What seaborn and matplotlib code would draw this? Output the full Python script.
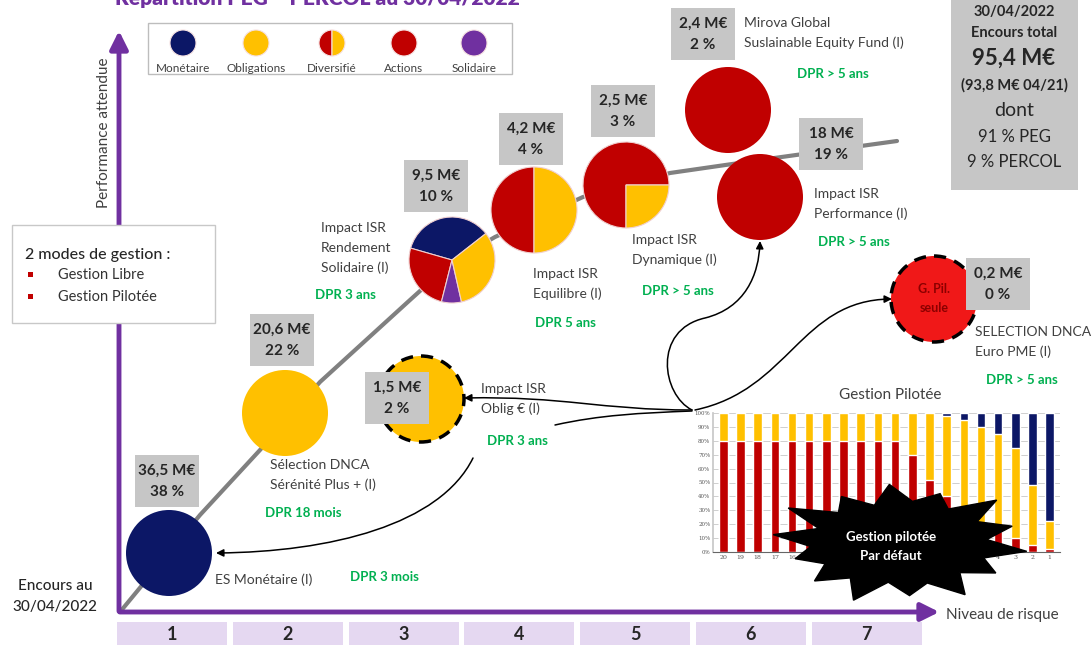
import numpy as np
import pandas as pd
import seaborn as sns
import matplotlib.pyplot as plt
from matplotlib.patches import Rectangle, Polygon, FancyArrowPatch
from matplotlib.path import Path

sns.set_theme(style="white")
plt.rcParams['font.family'] = ['Lato', 'DejaVu Sans']

# Data
fonds = ["ES Monétaire (I)", "Sélection DNCA\nSérénité Plus + (I)", "Impact ISR\nOblig € (I)",
         "Impact ISR\nRendement\nSolidaire (I)", "Impact ISR\nEquilibre (I)", "Impact ISR\nDynamique (I)",
         "Mirova Global\nSuslainable Equity Fund (I)", "Impact ISR\nPerformance (I)",
         "SELECTION DNCA\nEuro PME (I)"]
encours = [36.5, 20.6, 1.5, 9.5, 4.2, 2.5, 2.4, 18, 0.2]   # M€
parts = [38, 22, 2, 10, 4, 3, 2, 19, 0]                      # %
dpr = ["DPR 3 mois", "DPR 18 mois", "DPR 3 ans", "DPR 3 ans", "DPR 5 ans",
       "DPR > 5 ans", "DPR > 5 ans", "DPR > 5 ans", "DPR > 5 ans"]
# composition of each fund (%)
monetaire = [100, 0, 0, 35, 0, 0, 0, 0, 0]
actions = [0, 0, 0, 25.5, 50, 75, 100, 100, 100]
solidaire = [0, 0, 0, 7.5, 0, 0, 0, 0, 0]
obligations = [0, 100, 100, 32, 50, 25, 0, 0, 0]

legende = ["Monétaire", "Obligations", "Diversifié", "Actions", "Solidaire"]
risques = ["1", "2", "3", "4", "5", "6", "7"]

# Gestion pilotée (profils 20 -> 1)
profils = ["20", "19", "18", "17", "16", "15", "14", "13", "12", "11", "10",
           "9", "8", "7", "6", "5", "4", "3", "2", "1"]
pil_actions = [80, 80, 80, 80, 80, 80, 80, 80, 80, 80, 80, 70, 52, 40, 28, 20, 15, 10, 5, 2]
pil_obligations = [20, 20, 20, 20, 20, 20, 20, 20, 20, 20, 20, 30, 48, 58, 67, 70, 70, 65, 43, 20]
pil_monetaire = [0, 0, 0, 0, 0, 0, 0, 0, 0, 0, 0, 0, 0, 2, 5, 10, 15, 25, 52, 78]

# colours
NAVY = "#0c1766"
YELLOW = "#ffc000"
RED = "#c00000"
PURPLE = "#7030a0"
GREEN = "#00b050"
TXT = "#404040"

# layout (pixels)
centres = [(169, 553), (285, 413), (421, 399), (452, 260), (534, 210), (626, 185),
           (728, 110), (760, 197), (934, 299)]
rayon = 43
starts = [90, 90, 90, 38, 90, 0, 90, 90, 90]
boxes = [(167, 481), (282, 340), (397, 398), (436, 186), (531, 139), (623, 111),
         (703, 34), (831, 144), (998, 284)]
labels_xy = [(215, 580), (270, 465), (481, 389), (321, 228), (533, 274), (632, 240),
             (744, 23), (814, 194), (975, 332)]
dpr_xy = [(350, 577), (265, 513), (487, 441), (315, 295), (535, 323), (642, 291),
          (797, 74), (818, 242), (986, 380)]


def fmt(v):
    return f"{v:g}".replace(".", ",")


fig = plt.figure(figsize=(10.92, 6.45), dpi=100)
ax = fig.add_axes([0, 0, 1, 1])
ax.set_xlim(0, 1092)
ax.set_ylim(645, 0)

# grey performance curve
curve_x = [120, 200, 260, 320, 410, 452, 495, 583, 670, 760, 897]
curve_y = [612, 515, 450, 382, 300, 262, 237, 197, 173, 160, 141]
ax.plot(curve_x, curve_y, color="#808080", lw=3, zorder=1, solid_capstyle="round")

# axes arrows
ax.annotate("", xy=(119, 28), xytext=(119, 614), zorder=1,
            arrowprops=dict(arrowstyle="-|>,head_length=0.9,head_width=0.45", color=PURPLE, lw=3.5))
ax.annotate("", xy=(942, 612), xytext=(117, 612), zorder=1,
            arrowprops=dict(arrowstyle="-|>,head_length=0.9,head_width=0.45", color=PURPLE, lw=3.5))
ax.text(104, 133, "Performance attendue", rotation=90, ha="center", va="center", fontsize=11, color=TXT)
ax.text(946, 615, "Niveau de risque", ha="left", va="center", fontsize=11, color=TXT)
ax.text(55, 586, "Encours au", ha="center", va="center", fontsize=11, color="#262626", fontweight="medium")
ax.text(55, 607, "30/04/2022", ha="center", va="center", fontsize=11, color="#262626", fontweight="medium")

# risk scale
for i, r in enumerate(risques):
    x0 = 117 + i * 115.8
    ax.add_patch(Rectangle((x0, 622), 110, 30, facecolor="#e5d8f1", edgecolor="none", zorder=1))
    ax.text(x0 + 55, 635, r, ha="center", va="center", fontsize=13, fontweight="bold", color="#262626")

# title (cut at the top)
ax.text(115, 5, "Répartition PEG – PERCOL au 30/04/2022", ha="left", va="baseline",
        fontsize=15, fontweight="heavy", color=PURPLE)

# funds
for i in range(len(fonds)):
    cx, cy = centres[i]
    vals = [monetaire[i], actions[i], solidaire[i], obligations[i]]
    cols = [NAVY, RED, PURPLE, YELLOW]
    if i == 8:
        cols = [NAVY, "#f01818", PURPLE, YELLOW]
    keep = [k for k in range(4) if vals[k] > 0]
    ax.pie([vals[k] for k in keep], colors=[cols[k] for k in keep], center=(cx, cy), radius=rayon,
           startangle=-starts[i], counterclock=False, frame=True,
           wedgeprops=dict(edgecolor="#f0d0d0", linewidth=0.8 if len(keep) > 1 else 0))
    if i in (2, 8):
        circ = plt.Circle((cx, cy), rayon, facecolor="none", edgecolor="black", lw=2.5,
                          linestyle=(0, (3.5, 2.5)), zorder=3)
        ax.add_patch(circ)

    bx, by = boxes[i]
    ax.add_patch(Rectangle((bx - 32, by - 26), 64, 52, facecolor="#c6c6c6", edgecolor="none", zorder=4))
    ax.text(bx, by - 10, f"{fmt(encours[i])} M€", ha="center", va="center", fontsize=11,
            fontweight="bold", color="#262626", zorder=5)
    ax.text(bx, by + 11, f"{parts[i]} %", ha="center", va="center", fontsize=11,
            fontweight="bold", color="#262626", zorder=5)

    lx, ly = labels_xy[i]
    for j, line in enumerate(fonds[i].split("\n")):
        ax.text(lx, ly + j * 20, line, ha="left", va="center", fontsize=10, color=TXT)

    dx, dy = dpr_xy[i]
    ax.text(dx, dy, dpr[i], ha="left", va="center", fontsize=9.5, fontweight="bold", color=GREEN)

ax.text(934, 289, "G. Pil.", ha="center", va="center", fontsize=9, fontweight="bold", color="#8b0000", zorder=5)
ax.text(934, 308, "seule", ha="center", va="center", fontsize=9, fontweight="bold", color="#8b0000", zorder=5)

# legend
ax.add_patch(Rectangle((148, 23), 364, 51, facecolor="white", edgecolor="#bdbdbd", lw=1, zorder=2))
leg_x = [183, 256, 332, 404, 474]
leg_vals = [[100], [100], [50, 50], [100], [100]]
leg_cols = [[NAVY], [YELLOW], [RED, YELLOW], [RED], [PURPLE]]
for i, name in enumerate(legende):
    w, _ = ax.pie(leg_vals[i], colors=leg_cols[i], center=(leg_x[i], 43), radius=13,
                  startangle=-90, counterclock=False, frame=True,
                  wedgeprops=dict(linewidth=0.8, edgecolor="#f5e0e0"))
    for wedge in w:
        wedge.set_zorder(3)
    ax.text(leg_x[i], 68, name, ha="center", va="center", fontsize=8.5, color=TXT, zorder=3)

# modes de gestion
ax.add_patch(Rectangle((12, 225), 203, 98, facecolor="white", edgecolor="#c8c8c8", lw=1, zorder=2))
ax.text(25, 255, "2 modes de gestion :", ha="left", va="center", fontsize=11.5, fontweight="medium",
        color="#262626", zorder=3)
for j, t in enumerate(["Gestion Libre", "Gestion Pilotée"]):
    ax.add_patch(Rectangle((28, 272 + j * 22), 5, 5, facecolor=RED, edgecolor="none", zorder=3))
    ax.text(58, 275 + j * 22, t, ha="left", va="center", fontsize=10.5, color="#333333", zorder=3)

# total box
ax.add_patch(Rectangle((951, -5), 127, 195, facecolor="#c6c6c6", edgecolor="none", zorder=2))
tot_lines = [("30/04/2022", 10.5, "bold", 12), ("Encours total", 10.5, "bold", 33),
             ("95,4 M€", 16, "bold", 58), ("(93,8 M€ 04/21)", 10.5, "bold", 85),
             ("dont", 14, "normal", 111), ("91 % PEG", 12, "normal", 137),
             ("9 % PERCOL", 12, "normal", 162)]
for t, fs, fw, y in tot_lines:
    ax.text(1014, y, t, ha="center", va="center", fontsize=fs, fontweight=fw, color="#262626", zorder=3)

# arrows
def arrow(verts, head=True):
    codes = [Path.MOVETO] + [Path.CURVE4] * (len(verts) - 1)
    style = "-|>" if head else "-"
    ax.add_patch(FancyArrowPatch(path=Path(verts, codes), arrowstyle=style, mutation_scale=11,
                                 color="black", lw=1.1, zorder=2))

arrow([(692, 410), (600, 410), (565, 396), (464, 398)])
arrow([(692, 411), (640, 413), (600, 415), (555, 425)], head=False)
arrow([(473, 458), (440, 525), (330, 552), (216, 553)])
arrow([(692, 410), (662, 395), (652, 330), (705, 318), (745, 308), (759, 275), (760, 241)])
arrow([(695, 410), (790, 390), (800, 300), (892, 299)])

ax.text(890, 395, "Gestion Pilotée", ha="center", va="center", fontsize=11, color=TXT)
ax.set_xlim(0, 1092)
ax.set_ylim(645, 0)
ax.axis("off")

# stacked bars for the pilot profiles
axb = fig.add_axes([713 / 1092, 1 - 552 / 645, 347 / 1092, 139 / 645])
df = pd.DataFrame({"profil": profils, "actions": pil_actions,
                   "obligations": pil_obligations, "monetaire": pil_monetaire})
df["top"] = df["actions"] + df["obligations"] + df["monetaire"]
df["mid"] = df["actions"] + df["obligations"]
sns.barplot(data=df, x="profil", y="top", order=profils, color=NAVY, width=0.5, saturation=1, ax=axb, zorder=2)
sns.barplot(data=df, x="profil", y="mid", order=profils, color=YELLOW, width=0.5, saturation=1, ax=axb, zorder=2)
sns.barplot(data=df, x="profil", y="actions", order=profils, color=RED, width=0.5, saturation=1, ax=axb, zorder=2)
axb.set_xlim(-0.6, 19.6)
axb.set_ylim(0, 100)
axb.set_yticks(range(0, 101, 10))
axb.set_yticklabels([f"{v}%" for v in range(0, 101, 10)], fontsize=4, family="DejaVu Serif", color="#555555")
axb.set_xticks(range(20))
axb.set_xticklabels(profils, fontsize=4.5, family="DejaVu Serif", color="#555555")
axb.tick_params(axis="both", length=0, pad=2)
axb.yaxis.grid(True, color="#c8c8c8", lw=0.6, zorder=0)
axb.set_xlabel("")
axb.set_ylabel("")
axb.set_facecolor("none")
for s in ["top", "right"]:
    axb.spines[s].set_visible(False)
axb.spines["left"].set_color("#c8c8c8")
axb.spines["bottom"].set_color("#666666")
axb.spines["bottom"].set_linewidth(0.8)

# overlay: "par défaut" burst on top of the bars
axo = fig.add_axes([0, 0, 1, 1])
axo.set_facecolor("none")
star_ang = np.radians(np.linspace(0, 360, 29)[:-1] + 8)
star_r = np.array([1.0, 0.7, 0.9, 0.68, 1.0, 0.7, 0.88, 0.66, 1.02, 0.7, 0.92, 0.68, 0.86, 0.7,
                   1.0, 0.68, 1.05, 0.7, 0.9, 0.66, 0.98, 0.7, 0.88, 0.68, 1.04, 0.7, 0.92, 0.68])
sx = 900 + 128 * star_r * np.cos(star_ang)
sy = 543 + 60 * star_r * np.sin(star_ang)
axo.add_patch(Polygon(np.column_stack([sx, sy]), closed=True, facecolor="black", edgecolor="black"))
axo.text(891, 537, "Gestion pilotée", ha="center", va="center", fontsize=9.5, fontweight="bold",
         color="white")
axo.text(891, 556, "Par défaut", ha="center", va="center", fontsize=9.5, fontweight="bold",
         color="white")
axo.set_xlim(0, 1092)
axo.set_ylim(645, 0)
axo.axis("off")

fig.savefig("out.png", dpi=100)
